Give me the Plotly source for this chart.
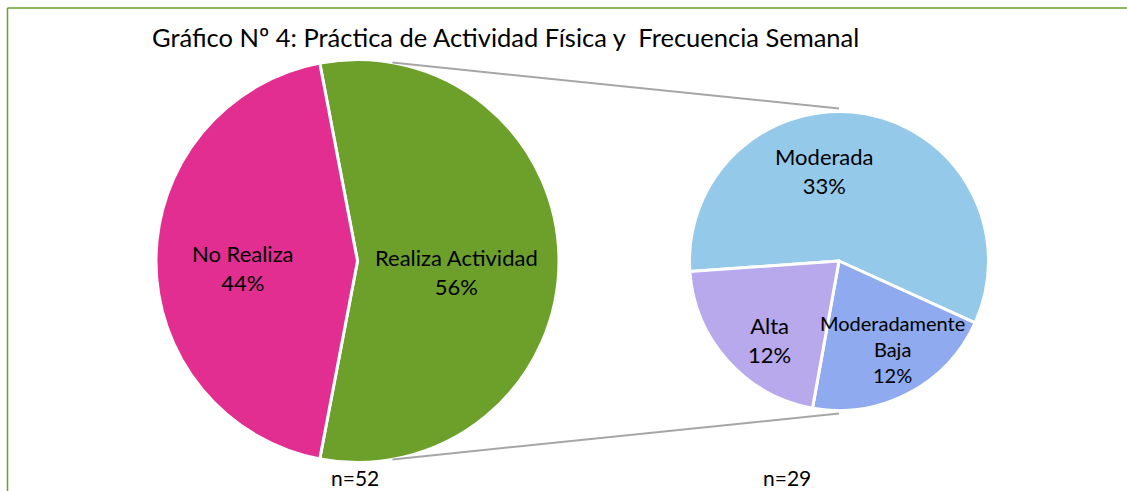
import math
import plotly.graph_objects as go

# ---- data ----
title_text = "Gráfico Nº 4: Práctica de Actividad Física y  Frecuencia Semanal"
main_labels = ["Realiza Actividad", "No Realiza"]
main_pct = [56, 44]
main_colors = ["#6CA02A", "#E22E90"]
main_n = 52

sub_labels = ["Moderada", "Moderadamente<br>Baja", "Alta"]
sub_pct = [33, 12, 12]
sub_colors = ["#95C9EA", "#8FAAEE", "#B8A8EC"]
sub_n = 29

# ---- geometry / style (pixels) ----
W, H = 1127, 491
L_CX, L_CY, L_R = 357.5, 261, 201.5
R_CX, R_CY, R_R = 839, 261, 149.5
FONT = "Lato, 'Open Sans', sans-serif"
# label block offsets relative to each pie centre, in units of its radius
main_label_off = [(0.49, 0.055), (-0.57, 0.035)]
sub_label_off = [(-0.095, -0.60), (0.36, 0.59), (-0.465, 0.53)]
sub_label_size = [22, 20, 22]


def dom(cx, cy, r):
    return dict(x=[(cx - r) / W, (cx + r) / W],
                y=[(H - cy - r) / H, (H - cy + r) / H])


def px2paper(x, y):
    return x / W, (H - y) / H


realiza_span = 360 * main_pct[0] / sum(main_pct)
main_rot = 90 - realiza_span / 2

fig = go.Figure()
fig.add_trace(go.Pie(
    labels=main_labels, values=main_pct, sort=False, direction="clockwise",
    rotation=main_rot, domain=dom(L_CX, L_CY, L_R),
    marker=dict(colors=main_colors, line=dict(color="white", width=3)),
    textinfo="none", hoverinfo="label+value", showlegend=False,
))
fig.add_trace(go.Pie(
    labels=sub_labels, values=sub_pct, sort=False, direction="clockwise",
    rotation=266, domain=dom(R_CX, R_CY, R_R),
    marker=dict(colors=sub_colors, line=dict(color="white", width=3)),
    textinfo="none", hoverinfo="label+value", showlegend=False,
))

annotations = []
for lab, v, (dx, dy) in zip(main_labels, main_pct, main_label_off):
    ax, ay = px2paper(L_CX + dx * L_R, L_CY + dy * L_R)
    annotations.append(dict(text=f"{lab}<br>{v}%", x=ax, y=ay, xref="paper", yref="paper",
                            xanchor="center", yanchor="middle", showarrow=False,
                            font=dict(family=FONT, size=22, color="black")))
for lab, v, (dx, dy), fs in zip(sub_labels, sub_pct, sub_label_off, sub_label_size):
    ax, ay = px2paper(R_CX + dx * R_R, R_CY + dy * R_R)
    annotations.append(dict(text=f"{lab}<br>{v}%", x=ax, y=ay, xref="paper", yref="paper",
                            xanchor="center", yanchor="middle", showarrow=False,
                            font=dict(family=FONT, size=fs, color="black")))

# connector lines from the main pie to the top/bottom of the sub pie
shapes = []
for sgn in (1, -1):
    a = math.radians(80 * sgn)
    x0 = L_CX + L_R * math.cos(a)
    y0 = L_CY - L_R * math.sin(a)
    x1 = R_CX
    y1 = R_CY - sgn * (R_R + 3)
    p0 = px2paper(x0, y0)
    p1 = px2paper(x1, y1)
    shapes.append(dict(type="line", xref="paper", yref="paper",
                       x0=p0[0], y0=p0[1], x1=p1[0], y1=p1[1],
                       line=dict(color="#A6A6A6", width=2)))

# green frame (top and left edges)
fx, fy = px2paper(7.5, 8)
shapes.append(dict(type="line", xref="paper", yref="paper",
                   x0=fx, y0=fy, x1=1.0, y1=fy,
                   line=dict(color="#6CA02A", width=1.5)))
shapes.append(dict(type="line", xref="paper", yref="paper",
                   x0=fx, y0=fy, x1=fx, y1=0,
                   line=dict(color="#6CA02A", width=1.5)))

tx, ty = px2paper(150, 37)
n1x, n1y = px2paper(355, 477)
n2x, n2y = px2paper(787, 477)
annotations += [
    dict(text=title_text, x=tx, y=ty, xref="paper", yref="paper",
         xanchor="left", yanchor="middle", showarrow=False,
         font=dict(family=FONT, size=25.5, color="black")),
    dict(text=f"n={main_n}", x=n1x, y=n1y, xref="paper", yref="paper",
         xanchor="center", yanchor="middle", showarrow=False,
         font=dict(family=FONT, size=21, color="black")),
    dict(text=f"n={sub_n}", x=n2x, y=n2y, xref="paper", yref="paper",
         xanchor="center", yanchor="middle", showarrow=False,
         font=dict(family=FONT, size=21, color="black")),
]

fig.update_layout(
    width=W, height=H, autosize=False,
    margin=dict(l=0, r=0, t=0, b=0),
    paper_bgcolor="white", plot_bgcolor="white",
    shapes=shapes, annotations=annotations,
)

fig.write_html("out.html", config={"displayModeBar": False},
               post_script="document.body.style.margin='0';document.body.style.overflow='hidden';")
